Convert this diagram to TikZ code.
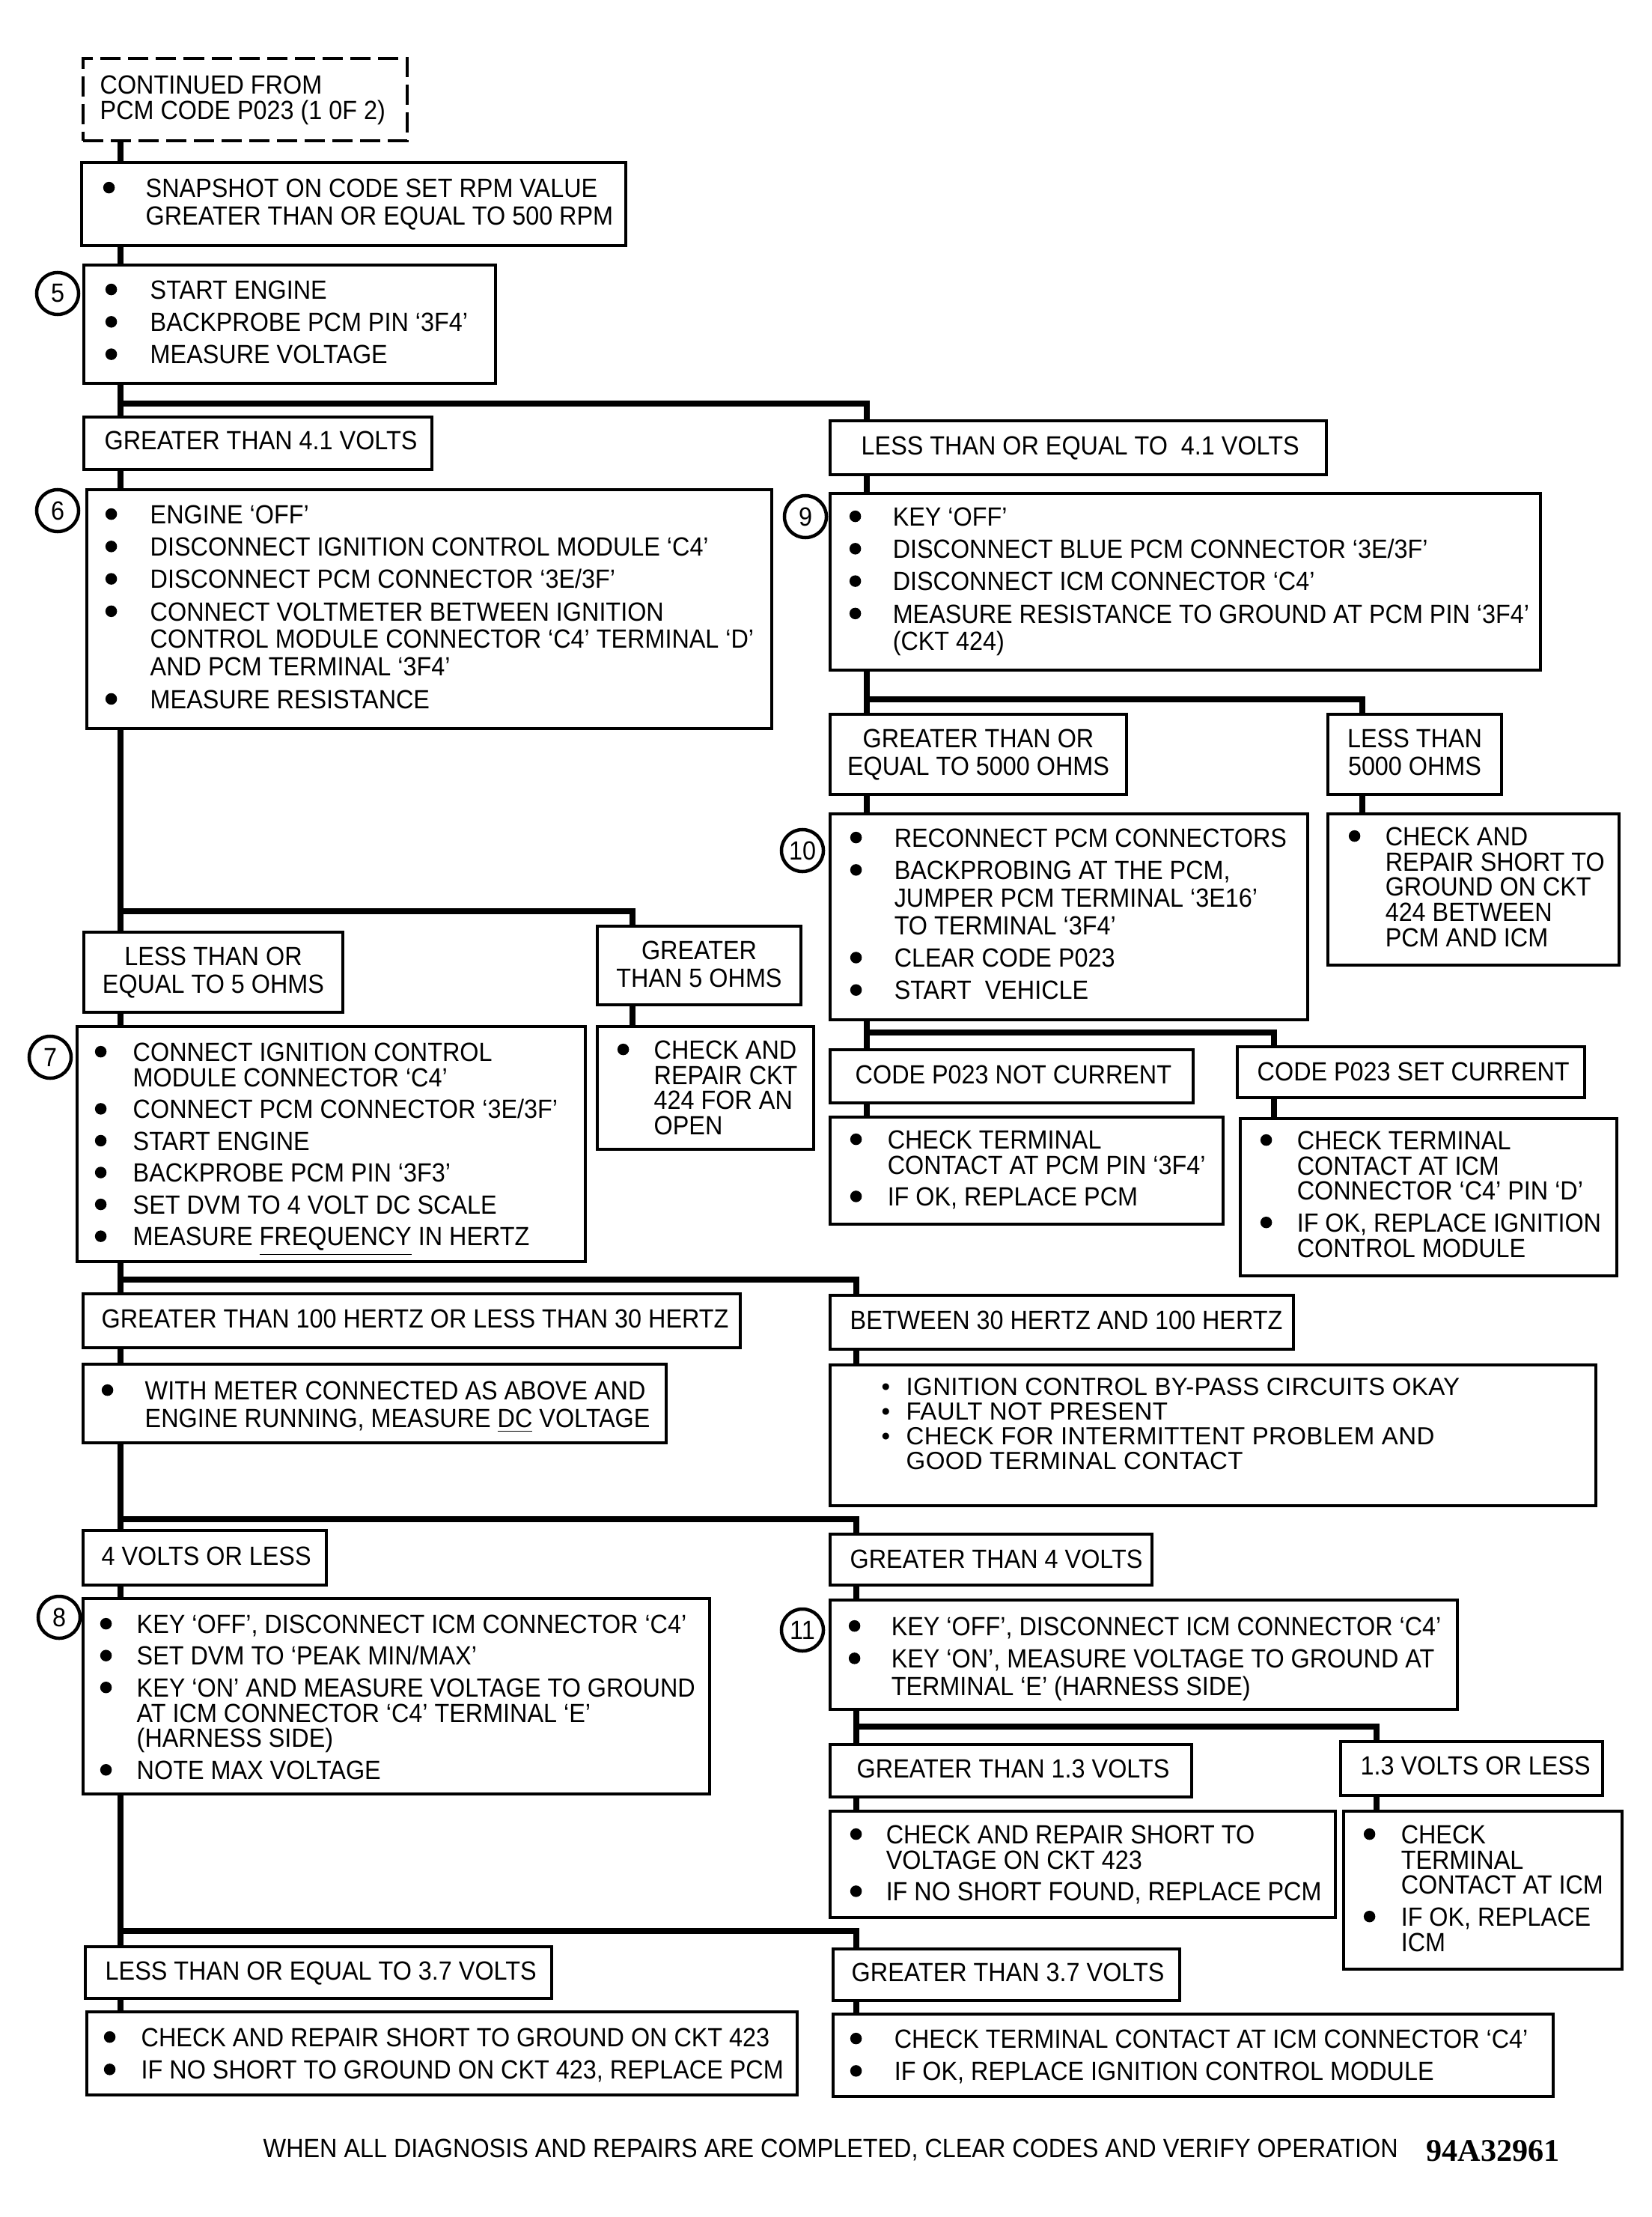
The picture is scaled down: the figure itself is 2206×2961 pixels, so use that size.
\documentclass[tikz,border=0pt]{standalone}
\usepackage{fontspec}
\setmainfont{Liberation Sans}[FakeStretch=0.92]
\newfontfamily\wfont{Liberation Sans}[LetterSpace=1]
\newfontfamily\serfont{Liberation Serif}
\usepackage{graphicx}
\usetikzlibrary{fit}
\newlength\bw
\newcommand\bul{\makebox[\bw][l]{\hspace{0.9pt}\tikz[baseline=-3.6pt]\fill (0,0) circle (2.2pt);}}
\newcommand\sbul{\makebox[\bw][l]{\textbullet}}
\newcommand\nob{\hspace*{\bw}}
\newcommand\ulx[1]{\underline{#1}}
\begin{document}
\begin{tikzpicture}[x=0.01cm, y=-0.01cm,
  box/.style={draw, line width=0.04cm, fill=white, inner sep=0pt},
  dbox/.style={box, dash pattern=on 0.27cm off 0.1cm},
  conn/.style={line width=0.08cm},
  txt/.style={inner sep=0pt, align=left, anchor=north west, font=\fontsize{10}{10.5}\selectfont},
  tightl/.style={font=\fontsize{10}{9.6}\selectfont},
  lab/.style={inner sep=0pt, anchor=base west, font=\fontsize{10}{10.5}\selectfont},
  clab/.style={inner sep=0pt, anchor=north, align=center, font=\fontsize{10}{10.5}\selectfont},
  num/.style={draw, circle, line width=0.045cm, minimum size=0.56cm, inner sep=0pt, font=\fontsize{10}{10}\selectfont},
  bw/.code={\setlength\bw{#1}}]
\useasboundingbox (0,0) rectangle (2206,2961);
\fill[white] (0,0) rectangle (2206,2961);

% ---------- boxes ----------
\node[dbox, fit={(111,78) (544,188)}] (d0) {};
\node[box, fit={(109,217) (836,328)}] (b1) {};
\node[box, fit={(112,354) (662,512)}] (b5) {};
\node[box, fit={(112,557) (577,627)}] (l1) {};
\node[box, fit={(116,654) (1031,973)}] (b6) {};
\node[box, fit={(1109,562) (1772,634)}] (r1) {};
\node[box, fit={(1109,659) (2058,895)}] (b9) {};
\node[box, fit={(1109,954) (1505,1061)}] (r2) {};
\node[box, fit={(1774,954) (2006,1061)}] (r3) {};
\node[box, fit={(1109,1087) (1747,1362)}] (b10) {};
\node[box, fit={(1774,1087) (2163,1289)}] (b10r) {};
\node[box, fit={(112,1245) (458,1352)}] (l2) {};
\node[box, fit={(798,1237) (1070,1342)}] (l3) {};
\node[box, fit={(103,1371) (782,1685)}] (b7) {};
\node[box, fit={(798,1371) (1087,1535)}] (l3b) {};
\node[box, fit={(1109,1402) (1594,1473)}] (r4) {};
\node[box, fit={(1653,1398) (2117,1466)}] (r5) {};
\node[box, fit={(1109,1492) (1634,1635)}] (b10a) {};
\node[box, fit={(1657,1494) (2160,1704)}] (b10b) {};
\node[box, fit={(111,1728) (989,1800)}] (l4) {};
\node[box, fit={(111,1822) (890,1927)}] (b7a) {};
\node[box, fit={(1109,1730) (1728,1802)}] (r6) {};
\node[box, fit={(1109,1823) (2132,2011)}] (r6b) {};
\node[box, fit={(111,2044) (436,2117)}] (l5) {};
\node[box, fit={(111,2135) (948,2396)}] (b8) {};
\node[box, fit={(1109,2049) (1539,2117)}] (r7) {};
\node[box, fit={(1109,2137) (1947,2283)}] (b11) {};
\node[box, fit={(1109,2330) (1592,2400)}] (r8) {};
\node[box, fit={(1791,2326) (2141,2398)}] (r9) {};
\node[box, fit={(1109,2419) (1784,2561)}] (b11a) {};
\node[box, fit={(1795,2419) (2167,2630)}] (b11b) {};
\node[box, fit={(114,2600) (737,2669)}] (l6) {};
\node[box, fit={(116,2687) (1065,2798)}] (b8a) {};
\node[box, fit={(1113,2603) (1576,2672)}] (r10) {};
\node[box, fit={(1113,2690) (2075,2800)}] (b8b) {};

% ---------- step numbers ----------
\node[num] (n5) at (77,392) {5};
\node[num] (n6) at (77,682) {6};
\node[num] (n9) at (1076,690) {9};
\node[num] (n10) at (1072,1136) {10};
\node[num] (n7) at (67,1412) {7};
\node[num] (n8) at (79,2160) {8};
\node[num] (n11) at (1072,2177) {11};

% ---------- texts ----------
\node[txt, font=\fontsize{10}{9.67}\selectfont] (td0) at (133,100) {CONTINUED FROM\\PCM CODE P023 (1 0F 2)};
\node[txt, bw=0.6cm] (tb1) at (134,238) {\bul SNAPSHOT ON CODE SET RPM VALUE\\\nob GREATER THAN OR EQUAL TO 500 RPM};
\node[txt, bw=0.63cm] (tb5) at (137,374) {\bul START ENGINE\\[1.8pt]\bul BACKPROBE PCM PIN ‘3F4’\\[1.8pt]\bul MEASURE VOLTAGE};
\node[lab] (tl1) at (139,601) {GREATER THAN 4.1 VOLTS};
\node[txt, bw=0.63cm] (tb6) at (137,674) {\bul ENGINE ‘OFF’\\[1.8pt]\bul DISCONNECT IGNITION CONTROL MODULE ‘C4’\\[1.8pt]\bul DISCONNECT PCM CONNECTOR ‘3E/3F’\\[1.8pt]\bul CONNECT VOLTMETER BETWEEN IGNITION\\\nob CONTROL MODULE CONNECTOR ‘C4’ TERMINAL ‘D’\\\nob AND PCM TERMINAL ‘3F4’\\[1.8pt]\bul MEASURE RESISTANCE};
\node[lab] (tr1) at (1150,607) {LESS THAN OR EQUAL TO~ 4.1 VOLTS};
\node[txt, bw=0.61cm] (tb9) at (1131,677) {\bul KEY ‘OFF’\\[1.8pt]\bul DISCONNECT BLUE PCM CONNECTOR ‘3E/3F’\\[1.8pt]\bul DISCONNECT ICM CONNECTOR ‘C4’\\[1.8pt]\bul MEASURE RESISTANCE TO GROUND AT PCM PIN ‘3F4’\\\nob (CKT 424)};
\node[clab] (tr2) at (1307,973) {GREATER THAN OR\\EQUAL TO 5000 OHMS};
\node[clab] (tr3) at (1890,973) {LESS THAN\\5000 OHMS};
\node[txt, bw=0.62cm] (tb10) at (1132,1106) {\bul RECONNECT PCM CONNECTORS\\[1.8pt]\bul BACKPROBING AT THE PCM,\\\nob JUMPER PCM TERMINAL ‘3E16’\\\nob TO TERMINAL ‘3F4’\\[1.8pt]\bul CLEAR CODE P023\\[1.8pt]\bul START~ VEHICLE};
\node[txt, tightl, bw=0.52cm] (tb10r) at (1798,1104) {\bul CHECK AND\\\nob REPAIR SHORT TO\\\nob GROUND ON CKT\\\nob 424 BETWEEN\\\nob PCM AND ICM};
\node[clab] (tl2) at (285,1264) {LESS THAN OR\\EQUAL TO 5 OHMS};
\node[clab] (tl3) at (934,1256) {GREATER\\THAN 5 OHMS};
\node[txt, tightl, bw=0.54cm] (tb7) at (123,1392) {\bul CONNECT IGNITION CONTROL\\\nob MODULE CONNECTOR ‘C4’\\[2.5pt]\bul CONNECT PCM CONNECTOR ‘3E/3F’\\[2.5pt]\bul START ENGINE\\[2.5pt]\bul BACKPROBE PCM PIN ‘3F3’\\[2.5pt]\bul SET DVM TO 4 VOLT DC SCALE\\[2.5pt]\bul MEASURE \ulx{FREQUENCY} IN HERTZ};
\node[txt, tightl, bw=0.52cm] (tl3b) at (821,1389) {\bul CHECK AND\\\nob REPAIR CKT\\\nob 424 FOR AN\\\nob OPEN};
\node[lab] (tr4) at (1142,1447) {CODE P023 NOT CURRENT};
\node[lab] (tr5) at (1679,1443) {CODE P023 SET CURRENT};
\node[txt, tightl, bw=0.53cm] (tb10a) at (1132,1509) {\bul CHECK TERMINAL\\\nob CONTACT AT PCM PIN ‘3F4’\\[2.5pt]\bul IF OK, REPLACE PCM};
\node[txt, tightl, bw=0.52cm] (tb10b) at (1680,1510) {\bul CHECK TERMINAL\\\nob CONTACT AT ICM\\\nob CONNECTOR ‘C4’ PIN ‘D’\\[2.5pt]\bul IF OK, REPLACE IGNITION\\\nob CONTROL MODULE};
\node[lab] (tl4) at (135,1773) {GREATER THAN 100 HERTZ OR LESS THAN 30 HERTZ};
\node[txt, bw=0.61cm] (tb7a) at (132,1844) {\bul WITH METER CONNECTED AS ABOVE AND\\\nob ENGINE RUNNING, MEASURE \ulx{DC} VOLTAGE};
\node[lab] (tr6) at (1135,1775) {BETWEEN 30 HERTZ AND 100 HERTZ};
\node[txt, font=\wfont\fontsize{9.4}{9.4}\selectfont, bw=0.33cm] (tr6b) at (1177,1840) {\sbul IGNITION CONTROL BY-PASS CIRCUITS OKAY\\\sbul FAULT NOT PRESENT\\\sbul CHECK FOR INTERMITTENT PROBLEM AND\\\nob GOOD TERMINAL CONTACT};
\node[lab] (tl5) at (135,2090) {4 VOLTS OR LESS};
\node[txt, tightl, bw=0.52cm] (tb8) at (130,2156) {\bul KEY ‘OFF’, DISCONNECT ICM CONNECTOR ‘C4’\\[2.5pt]\bul SET DVM TO ‘PEAK MIN/MAX’\\[2.5pt]\bul KEY ‘ON’ AND MEASURE VOLTAGE TO GROUND\\\nob AT ICM CONNECTOR ‘C4’ TERMINAL ‘E’\\\nob (HARNESS SIDE)\\[2.5pt]\bul NOTE MAX VOLTAGE};
\node[lab] (tr7) at (1135,2094) {GREATER THAN 4 VOLTS};
\node[txt, bw=0.6cm] (tb11) at (1130,2159) {\bul KEY ‘OFF’, DISCONNECT ICM CONNECTOR ‘C4’\\[1.8pt]\bul KEY ‘ON’, MEASURE VOLTAGE TO GROUND AT\\\nob TERMINAL ‘E’ (HARNESS SIDE)};
\node[lab] (tr8) at (1144,2374) {GREATER THAN 1.3 VOLTS};
\node[lab] (tr9) at (1817,2370) {1.3 VOLTS OR LESS};
\node[txt, tightl, bw=0.51cm] (tb11a) at (1132,2437) {\bul CHECK AND REPAIR SHORT TO\\\nob VOLTAGE ON CKT 423\\[2.5pt]\bul IF NO SHORT FOUND, REPLACE PCM};
\node[txt, tightl, bw=0.53cm] (tb11b) at (1818,2437) {\bul CHECK\\\nob TERMINAL\\\nob CONTACT AT ICM\\[2.5pt]\bul IF OK, REPLACE\\\nob ICM};
\node[lab] (tl6) at (140,2644) {LESS THAN OR EQUAL TO 3.7 VOLTS};
\node[txt, bw=0.53cm] (tb8a) at (135,2708) {\bul CHECK AND REPAIR SHORT TO GROUND ON CKT 423\\[1.8pt]\bul IF NO SHORT TO GROUND ON CKT 423, REPLACE PCM};
\node[lab] (tr10) at (1137,2646) {GREATER THAN 3.7 VOLTS};
\node[txt, bw=0.62cm] (tb8b) at (1132,2710) {\bul CHECK TERMINAL CONTACT AT ICM CONNECTOR ‘C4’\\[1.8pt]\bul IF OK, REPLACE IGNITION CONTROL MODULE};

\node[lab] (foot) at (351,2881) {WHEN ALL DIAGNOSIS AND REPAIRS ARE COMPLETED, CLEAR CODES AND VERIFY OPERATION};
\node[lab, font=\serfont\bfseries\fontsize{12}{12}\selectfont] (code) at (1905,2886) {94A32961};

% ---------- trunk references ----------
\coordinate (xL) at (161,0);
\coordinate (xR) at (1158,0);
\coordinate (xR2) at (1144,0);
\coordinate (xG5) at (845,0);
\coordinate (x5000) at (1820,0);
\coordinate (xSet) at (1702,0);
\coordinate (xLess) at (1839,0);
\coordinate (jA) at (161,539);
\coordinate (jB) at (161,1217);
\coordinate (jC) at (161,1709);
\coordinate (jD) at (161,2029);
\coordinate (jE) at (161,2579);
\coordinate (jF) at (1158,934);
\coordinate (jG) at (1158,1379);
\coordinate (jH) at (1144,2306);

% ---------- connectors ----------
\draw[conn] (xL |- d0.south) -- (xL |- b1.north);
\draw[conn] (xL |- b1.south) -- (xL |- b5.north);
\draw[conn] (xL |- b5.south) -- (xL |- l1.north);
\draw[conn] (jA) -| (xR |- r1.north);
\draw[conn] (xL |- l1.south) -- (xL |- b6.north);
\draw[conn] (xL |- b6.south) -- (xL |- l2.north);
\draw[conn] (jB) -| (xG5 |- l3.north);
\draw[conn] (xL |- l2.south) -- (xL |- b7.north);
\draw[conn] (xG5 |- l3.south) -- (xG5 |- l3b.north);
\draw[conn] (xL |- b7.south) -- (xL |- l4.north);
\draw[conn] (jC) -| (xR2 |- r6.north);
\draw[conn] (xL |- l4.south) -- (xL |- b7a.north);
\draw[conn] (xL |- b7a.south) -- (xL |- l5.north);
\draw[conn] (jD) -| (xR2 |- r7.north);
\draw[conn] (xL |- l5.south) -- (xL |- b8.north);
\draw[conn] (xL |- b8.south) -- (xL |- l6.north);
\draw[conn] (jE) -| (xR2 |- r10.north);
\draw[conn] (xL |- l6.south) -- (xL |- b8a.north);

\draw[conn] (xR |- r1.south) -- (xR |- b9.north);
\draw[conn] (xR |- b9.south) -- (xR |- r2.north);
\draw[conn] (jF) -| (x5000 |- r3.north);
\draw[conn] (xR |- r2.south) -- (xR |- b10.north);
\draw[conn] (x5000 |- r3.south) -- (x5000 |- b10r.north);
\draw[conn] (xR |- b10.south) -- (xR |- r4.north);
\draw[conn] (jG) -| (xSet |- r5.north);
\draw[conn] (xR |- r4.south) -- (xR |- b10a.north);
\draw[conn] (xSet |- r5.south) -- (xSet |- b10b.north);

\draw[conn] (xR2 |- r6.south) -- (xR2 |- r6b.north);
\draw[conn] (xR2 |- r7.south) -- (xR2 |- b11.north);
\draw[conn] (xR2 |- b11.south) -- (xR2 |- r8.north);
\draw[conn] (jH) -| (xLess |- r9.north);
\draw[conn] (xR2 |- r8.south) -- (xR2 |- b11a.north);
\draw[conn] (xLess |- r9.south) -- (xLess |- b11b.north);
\draw[conn] (xR2 |- r10.south) -- (xR2 |- b8b.north);
\end{tikzpicture}
\end{document}
